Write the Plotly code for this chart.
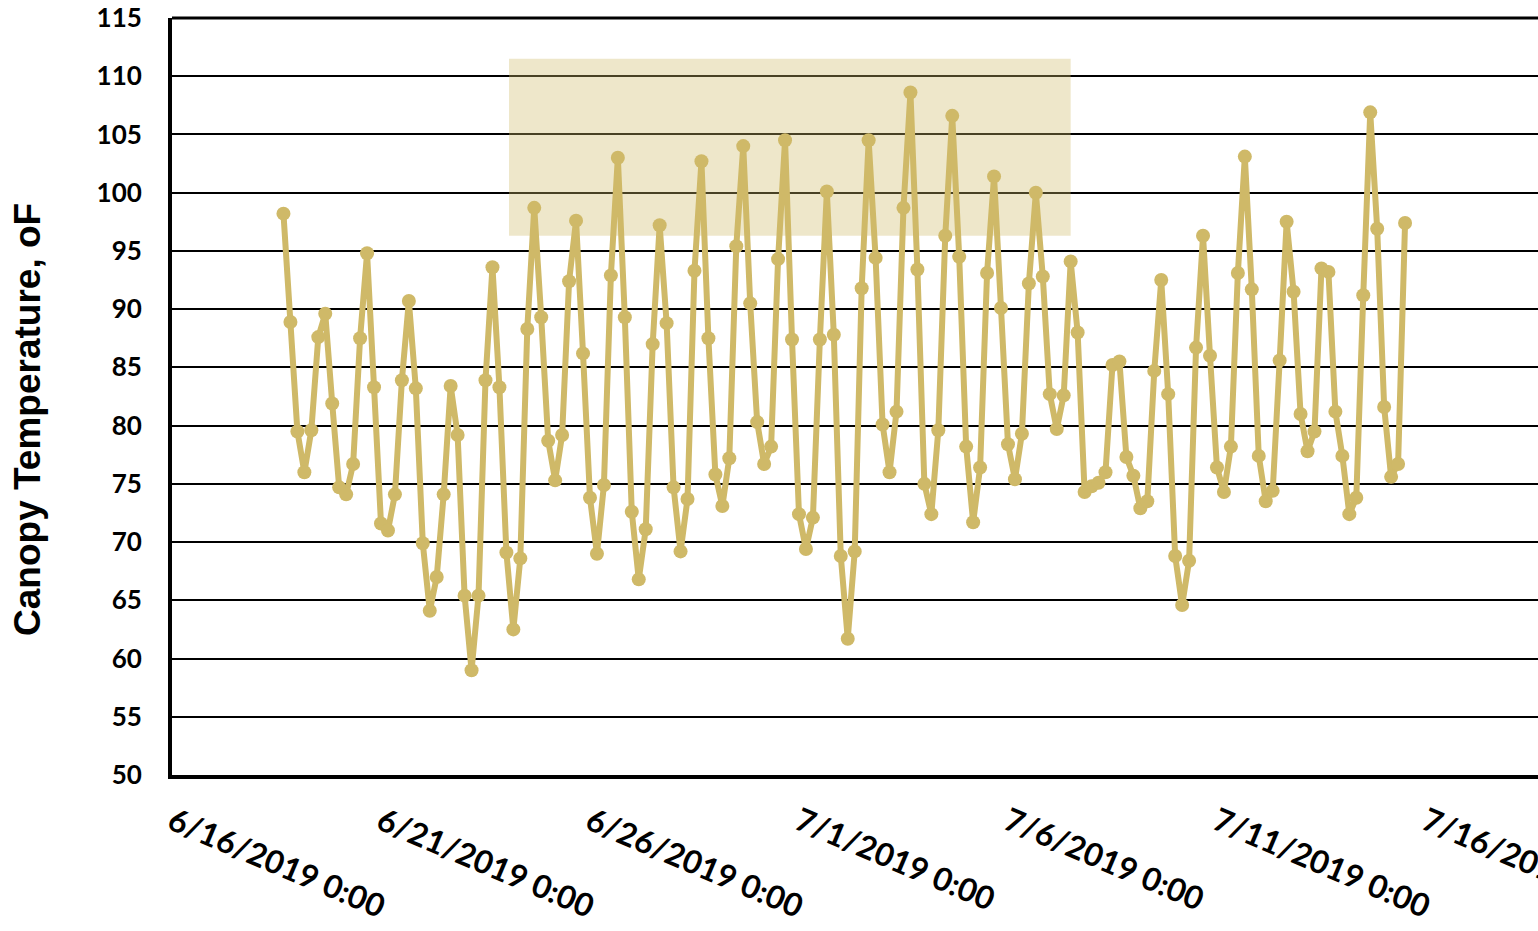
import pandas as pd
import plotly.graph_objects as go

# ---- data -------------------------------------------------------------
start_time = "2019-06-18 16:00"
step = "4h"
canopy_temp_F = [
    98.2, 88.9, 79.5, 76.0, 79.6, 87.6, 89.6, 81.9, 74.7, 74.1,
    76.7, 87.5, 94.8, 83.3, 71.6, 71.0, 74.1, 83.9, 90.7, 83.2,
    69.9, 64.1, 67.0, 74.1, 83.4, 79.2, 65.4, 59.0, 65.4, 83.9,
    93.6, 83.3, 69.1, 62.5, 68.6, 88.3, 98.7, 89.3, 78.7, 75.3,
    79.2, 92.4, 97.6, 86.2, 73.8, 69.0, 74.9, 92.9, 103.0, 89.3,
    72.6, 66.8, 71.1, 87.0, 97.2, 88.8, 74.7, 69.2, 73.7, 93.3,
    102.7, 87.5, 75.8, 73.1, 77.2, 95.4, 104.0, 90.5, 80.3, 76.7,
    78.2, 94.3, 104.5, 87.4, 72.4, 69.4, 72.1, 87.4, 100.1, 87.8,
    68.8, 61.7, 69.2, 91.8, 104.5, 94.4, 80.1, 76.0, 81.2, 98.7,
    108.6, 93.4, 75.0, 72.4, 79.6, 96.3, 106.6, 94.5, 78.2, 71.7,
    76.4, 93.1, 101.4, 90.1, 78.4, 75.4, 79.3, 92.2, 100.0, 92.8,
    82.7, 79.7, 82.6, 94.1, 88.0, 74.3, 74.8, 75.1, 76.0, 85.2,
    85.5, 77.3, 75.7, 72.9, 73.5, 84.7, 92.5, 82.7, 68.8, 64.6,
    68.4, 86.7, 96.3, 86.0, 76.4, 74.3, 78.2, 93.1, 103.1, 91.7,
    77.4, 73.5, 74.4, 85.6, 97.5, 91.5, 81.0, 77.8, 79.5, 93.5,
    93.2, 81.2, 77.4, 72.4, 73.8, 91.2, 106.9, 96.9, 81.6, 75.6,
    76.7, 97.4,
]
times = pd.date_range(start=start_time, periods=len(canopy_temp_F), freq=step)

tick_dates = ["2019-06-16", "2019-06-21", "2019-06-26", "2019-07-01",
              "2019-07-06", "2019-07-11", "2019-07-16"]
tick_labels = ["6/16/2019 0:00", "6/21/2019 0:00", "6/26/2019 0:00", "7/1/2019 0:00",
               "7/6/2019 0:00", "7/11/2019 0:00", "7/16/2019 0:00"]

highlight_x = ["2019-06-24 01:30", "2019-07-07 12:00"]
highlight_y = [96.3, 111.5]

x_range = ["2019-06-16 00:00", "2019-07-18 16:20"]
y_range = [50, 115]

# ---- style ------------------------------------------------------------
GOLD = "#CFB968"
ytick_font = dict(family="Lato, 'Open Sans', sans-serif", size=26, color="black", weight="bold")
xtick_font = dict(family="Lato, 'Open Sans', sans-serif", size=32, color="black", weight="bold")

fig = go.Figure()
fig.add_trace(go.Scatter(
    x=times, y=canopy_temp_F, mode="lines+markers",
    line=dict(color=GOLD, width=6),
    marker=dict(color=GOLD, size=14),
    showlegend=False,
))

shapes = []
for d in tick_dates[1:]:
    shapes.append(dict(type="line", xref="x", yref="paper", x0=d, x1=d, y0=0, y1=1,
                       line=dict(color="white", width=2), layer="between"))
shapes.append(dict(type="rect", xref="x", yref="y",
                   x0=highlight_x[0], x1=highlight_x[1], y0=highlight_y[0], y1=highlight_y[1],
                   fillcolor=GOLD, opacity=0.35, line=dict(width=0), layer="between"))
shapes.append(dict(type="line", xref="paper", yref="paper", x0=0, x1=1, y0=1, y1=1,
                   line=dict(color="black", width=3), layer="above"))

fig.update_layout(
    width=1538, height=931,
    margin=dict(l=172, r=0, t=18, b=156, autoexpand=False),
    paper_bgcolor="white", plot_bgcolor="white",
    shapes=shapes,
    annotations=[dict(
        text="Canopy Temperature, oF", textangle=-90,
        xref="paper", yref="paper", x=0, y=0.469, xanchor="center", yanchor="middle",
        xshift=-144, showarrow=False,
        font=dict(family="'Liberation Sans', Arial, sans-serif", size=37, color="black", weight="bold"),
    )],
)
fig.update_xaxes(
    type="date", range=x_range, automargin=False,
    tickmode="array", tickvals=tick_dates, ticktext=tick_labels,
    tickangle=23, tickfont=xtick_font, ticklabeloverflow="allow",
    showgrid=False, zeroline=False,
    showline=True, linecolor="black", linewidth=4,
    ticks="", ticklabelstandoff=12,
)
fig.update_yaxes(
    range=y_range, dtick=5, tick0=50, automargin=False,
    tickfont=ytick_font,
    showgrid=True, gridcolor="black", gridwidth=1.5,
    zeroline=False,
    showline=True, linecolor="black", linewidth=4,
    ticks="", ticklabelstandoff=21,
)

fig.write_html(
    "out.html",
    config={"displayModeBar": False},
    post_script="document.body.style.margin='0';document.body.style.overflow='hidden';",
)
